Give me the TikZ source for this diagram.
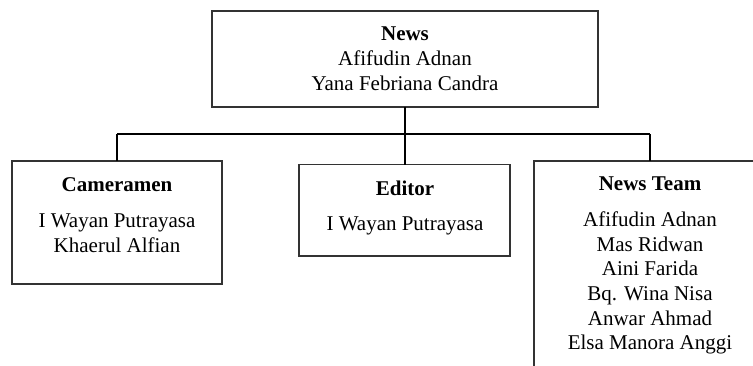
\documentclass[tikz,border=0pt]{standalone}
\usepackage{fontspec}
\setmainfont{Liberation Serif}
\begin{document}
\begin{tikzpicture}[x=1pt,y=-1pt,
  box/.style={draw=black!80, line width=1.1pt, rectangle, inner sep=0pt, outer sep=0pt},
  txt/.style={anchor=base, inner sep=0pt, font=\fontsize{21}{24.7}\selectfont},
  conn/.style={draw=black, line width=1.1pt}]
\useasboundingbox (0,0) rectangle (753,365);
\clip (0,0) rectangle (753,365);
% boxes
\node[box, minimum width=386pt, minimum height=96pt] (news) at (405,59) {};
\node[box, minimum width=210pt, minimum height=123pt] (cam) at (117,222.5) {};
\node[box, minimum width=211pt, minimum height=91.5pt] (edit) at (404.5,210.25) {};
\node[box, minimum width=232pt, minimum height=214pt] (team) at (650,268) {};
% texts
\node[txt] (newst) at (405,40.7) {\begin{tabular}[t]{@{}c@{}}\textbf{News}\\Afifudin Adnan\\Yana Febriana Candra\end{tabular}};
\node[txt] (camt) at (117,191.7) {\begin{tabular}[t]{@{}c@{}}\textbf{Cameramen}\\[11pt]I Wayan Putrayasa\\Khaerul Alfian\end{tabular}};
\node[txt] (editt) at (405,195) {\begin{tabular}[t]{@{}c@{}}\textbf{Editor}\\[11pt]I Wayan Putrayasa\end{tabular}};
\node[txt] (teamt) at (650,190.7) {\begin{tabular}[t]{@{}c@{}}\textbf{News Team}\\[11pt]Afifudin Adnan\\Mas Ridwan\\Aini Farida\\Bq. Wina Nisa\\Anwar Ahmad\\Elsa Manora Anggi\end{tabular}};
% connectors
\coordinate (busL) at (117,134);
\coordinate (busM) at (405,134);
\coordinate (busR) at (650,134);
\draw[conn] (news.south -| busM) -- (busM);
\draw[conn] (busL) -- (busR);
\draw[conn] (busL) -- (cam.north);
\draw[conn] (busM) -- (edit.north -| busM);
\draw[conn] (busR) -- (team.north);
\end{tikzpicture}
\end{document}
